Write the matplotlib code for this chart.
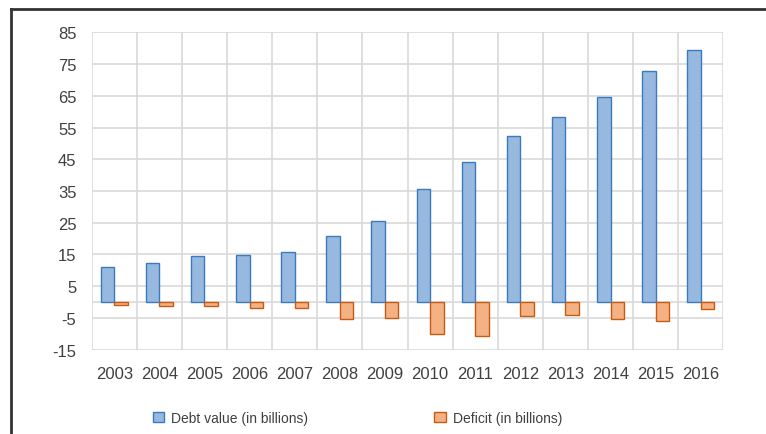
import matplotlib
matplotlib.use("Agg")
import matplotlib.pyplot as plt
import numpy as np
from matplotlib.lines import Line2D

years = ["2003", "2004", "2005", "2006", "2007", "2008", "2009",
         "2010", "2011", "2012", "2013", "2014", "2015", "2016"]
debt = [11.0, 12.2, 14.4, 14.8, 15.9, 20.8, 25.6, 35.6, 44.2, 52.4, 58.2, 64.5, 72.7, 79.5]
deficit = [-0.9, -1.1, -1.3, -1.9, -1.9, -5.3, -5.0, -9.9, -10.8, -4.4, -4.2, -5.3, -6.0, -2.2]
yticks = [-15, -5, 5, 15, 25, 35, 45, 55, 65, 75, 85]

plt.rcParams['font.family'] = ['Liberation Sans', 'DejaVu Sans']

fig = plt.figure(figsize=(7.66, 4.35), dpi=100)
ax = fig.add_axes([0.1197, 0.1938, 0.8246, 0.7296])

x = np.arange(len(years))
w = 0.3
grid_c = '#d9d9d9'
ax.bar(x - w/2, debt, w, color='#98b9df', edgecolor='#3a7abf', linewidth=1.0,
       label='Debt value (in billions)', zorder=3)
ax.bar(x + w/2, deficit, w, color='#f4b183', edgecolor='#c65b14', linewidth=1.0,
       label='Deficit (in billions)', zorder=3)

ax.set_xlim(-0.5, len(years) - 0.5)
ax.set_ylim(-15, 85)
ax.set_yticks(yticks)
ax.set_yticklabels([str(v) for v in yticks])
ax.set_xticks(x)
ax.set_xticklabels(years)
ax.grid(False)
for yv in yticks:
    ax.axhline(yv, color=grid_c, linewidth=1.2, zorder=1)
for xv in np.arange(-0.5, len(years), 1.0):
    ax.axvline(xv, color=grid_c, linewidth=1.2, zorder=1)
ax.axhline(0, color=grid_c, linewidth=1.2, zorder=2)
for s in ax.spines.values():
    s.set_visible(False)
ax.tick_params(axis='both', which='both', length=0, labelsize=12, colors='#404040')
ax.tick_params(axis='y', pad=11)
ax.tick_params(axis='x', pad=12)

h, l = ax.get_legend_handles_labels()
leg = fig.legend(h, l, loc='center', bbox_to_anchor=(0.4667, 0.037), ncol=2, frameon=False,
                 fontsize=10, handlelength=0.8, handleheight=0.8, handletextpad=0.5,
                 columnspacing=9.1)
for t in leg.get_texts():
    t.set_color('#404040')

# figure border (top and left visible)
fig.add_artist(Line2D([11/766, 11/766], [0, 1 - 10/435], transform=fig.transFigure,
                      color='#333333', linewidth=2))
fig.add_artist(Line2D([11/766, 1], [1 - 10/435, 1 - 10/435], transform=fig.transFigure,
                      color='#333333', linewidth=2))

fig.savefig('out.png', dpi=100)
